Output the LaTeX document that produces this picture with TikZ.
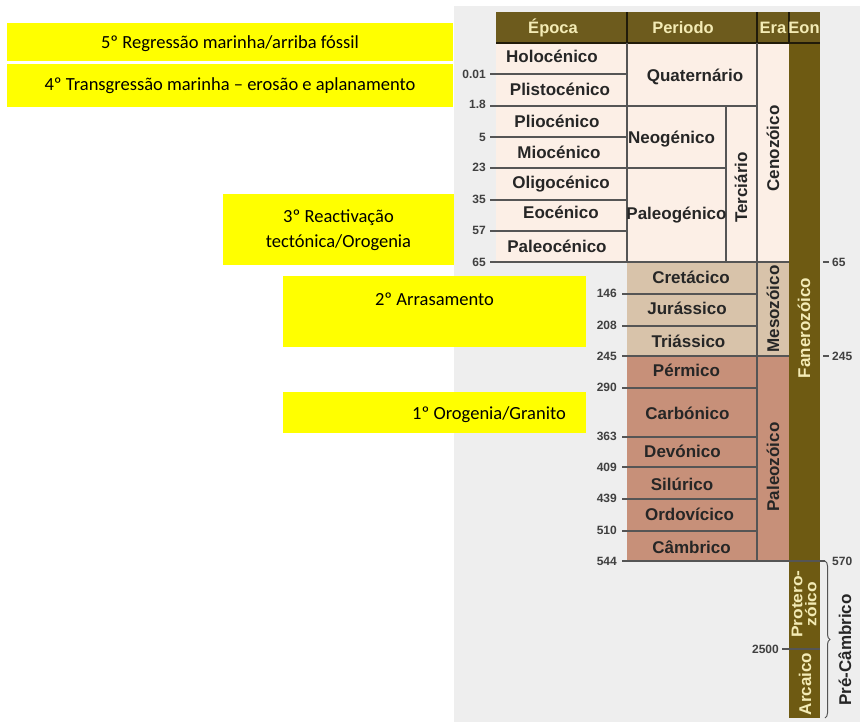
\documentclass[tikz,border=0pt]{standalone}
\usepackage{fontspec}
\setmainfont{Carlito}
\newfontfamily\chartfont{Liberation Sans}
\usetikzlibrary{decorations.pathreplacing}
\definecolor{cenoz}{HTML}{FCEFE6}
\definecolor{mesoz}{HTML}{D8C3AA}
\definecolor{paleoz}{HTML}{C79079}
\definecolor{olivec}{HTML}{6E5A12}
\definecolor{headbg}{HTML}{6D5B1D}
\definecolor{headtx}{HTML}{F3EBB5}
\definecolor{bggray}{HTML}{EEEEEE}
\definecolor{linegray}{HTML}{555555}
\definecolor{hl}{HTML}{FFFF00}
\begin{document}
\begin{tikzpicture}[x=1pt,y=-1pt,
  note/.style={font=\fontsize{18.5}{25}\selectfont, text=black, align=center, inner sep=0pt},
  cell/.style={font=\chartfont\bfseries\fontsize{17}{18}\selectfont, text=black!85, inner sep=0pt, text height=12.2pt, text depth=0pt},
  head/.style={cell, font=\chartfont\bfseries\fontsize{16.5}{18}\selectfont, text=headtx},
  light/.style={cell, text=headtx},
  tick/.style={font=\chartfont\bfseries\fontsize{12}{14}\selectfont, text=black!75, inner sep=0pt, text height=8.6pt, text depth=0pt},
  sep/.style={draw=linegray, line width=1.3pt},
  hsep/.style={draw=black!70!headbg, line width=1.3pt}]
\useasboundingbox (0,0) rectangle (860,723);
% background
\fill[bggray] (454,6) rectangle (860,722);
% yellow boxes
\fill[hl] (7,23) rectangle (453,61);
\fill[hl] (7,64) rectangle (453,107);
\fill[hl] (223,194) rectangle (454,265);
\fill[hl] (283,276) rectangle (586,347);
\fill[hl] (283,392) rectangle (586,433);
\node[note] (n5) at (230,44) {5º Regressão marinha/arriba fóssil};
\node[note] (n4) at (230,86) {4º Transgressão marinha – erosão e aplanamento};
\node[note] (n3) at (338.5,230.5) {3º Reactivação\\tectónica/Orogenia};
\node[note] (n2) at (434.5,299) {2º Arrasamento};
\node[note, anchor=east] (n1) at (566,415) {1º Orogenia/Granito};
% colour blocks
\fill[cenoz] (496,43) rectangle (789,262);
\fill[mesoz] (627,262) rectangle (789,356);
\fill[paleoz] (627,356) rectangle (789,561);
\fill[olivec] (789,43) rectangle (820,718);
% header
\fill[headbg] (496,12) rectangle (820,43);
\draw[hsep] (627,12) -- (627,43) (757,12) -- (757,43) (789,12) -- (789,43);
\draw[hsep] (496,43) -- (820,43);
\node[head] (hep) at (553,27.5) {Época};
\node[head] (hpe) at (683,27.5) {Periodo};
\node[head] (her) at (773,27.5) {Era};
\node[head] (heo) at (804,27.5) {Eon};
% Cenozoic lines
\draw[sep] (627,43) -- (627,262);
\draw[sep] (726,106) -- (726,262);
\draw[sep] (757,43) -- (757,561);
\draw[sep] (490,74) -- (627,74);
\draw[sep] (490,106) -- (757,106);
\draw[sep] (490,137) -- (627,137);
\draw[sep] (490,168) -- (726,168);
\draw[sep] (490,200) -- (627,200);
\draw[sep] (490,231) -- (627,231);
\draw[sep] (490,262) -- (789,262);
% Mesozoic / Paleozoic lines
\draw[sep] (622,294) -- (757,294);
\draw[sep] (622,326) -- (757,326);
\draw[sep] (622,356) -- (789,356);
\draw[sep] (622,388) -- (757,388);
\draw[sep] (622,437) -- (757,437);
\draw[sep] (622,467) -- (757,467);
\draw[sep] (622,499) -- (757,499);
\draw[sep] (622,531) -- (757,531);
\draw[sep] (622,561) -- (825,561);
% Precambrian
\draw[sep] (782,649) -- (820,649);
\draw[sep] (823,262) -- (829,262);
\draw[sep] (823,356) -- (829,356);
\draw[draw=linegray, line width=1pt, decorate, decoration={brace, amplitude=5pt}] (825,561) -- (825,718);
% left tick labels
\node[tick, anchor=east] (t1) at (486,74) {0.01};
\node[tick, anchor=east] (t2) at (486,104) {1.8};
\node[tick, anchor=east] (t3) at (486,137) {5};
\node[tick, anchor=east] (t4) at (486,167) {23};
\node[tick, anchor=east] (t5) at (486,199) {35};
\node[tick, anchor=east] (t6) at (486,230) {57};
\node[tick, anchor=east] (t7) at (486,262) {65};
\node[tick, anchor=east] (t8) at (617,293) {146};
\node[tick, anchor=east] (t9) at (617,325) {208};
\node[tick, anchor=east] (t10) at (617,356) {245};
\node[tick, anchor=east] (t11) at (617,387) {290};
\node[tick, anchor=east] (t12) at (617,436) {363};
\node[tick, anchor=east] (t13) at (617,467) {409};
\node[tick, anchor=east] (t14) at (617,498) {439};
\node[tick, anchor=east] (t15) at (617,530) {510};
\node[tick, anchor=east] (t16) at (617,561) {544};
\node[tick, anchor=east] (t17) at (779,649) {2500};
% right tick labels
\node[tick, anchor=west] (r1) at (832,262) {65};
\node[tick, anchor=west] (r2) at (832,356) {245};
\node[tick, anchor=west] (r3) at (832,561) {570};
% epochs
\node[cell] (e1) at (552,56) {Holocénico};
\node[cell] (e2) at (560,89) {Plistocénico};
\node[cell] (e3) at (557,121) {Pliocénico};
\node[cell] (e4) at (559,152) {Miocénico};
\node[cell] (e5) at (561,182) {Oligocénico};
\node[cell] (e6) at (561,212) {Eocénico};
\node[cell] (e7) at (557,246) {Paleocénico};
% periods
\node[cell] (p1) at (695,75) {Quaternário};
\node[cell] (p2) at (671.5,137) {Neogénico};
\node[cell] (p3) at (676.5,213) {Paleogénico};
\node[cell] (p4) at (691,277) {Cretácico};
\node[cell] (p5) at (687,308) {Jurássico};
\node[cell] (p6) at (688.5,341) {Triássico};
\node[cell] (p7) at (686.5,370) {Pérmico};
\node[cell] (p8) at (687.5,413) {Carbónico};
\node[cell] (p9) at (682.5,451) {Devónico};
\node[cell] (p10) at (682,484) {Silúrico};
\node[cell] (p11) at (689.5,514) {Ordovícico};
\node[cell] (p12) at (691.5,547) {Câmbrico};
% rotated
\node[cell, rotate=90] (terc) at (741,187.5) {Terciário};
\node[cell, rotate=90] (ceno) at (773,148.5) {Cenozóico};
\node[cell, rotate=90] (meso) at (773,309) {Mesozóico};
\node[cell, rotate=90] (pale) at (773,467) {Paleozóico};
\node[light, rotate=90] (fane) at (804,328) {Fanerozóico};
\node[light, rotate=90, text height=, text depth=, align=center, font=\chartfont\bfseries\fontsize{15.5}{14}\selectfont] (prot) at (804,604) {\scalebox{1.12}[1]{Protero-}\\\scalebox{1.12}[1]{zóico}};
\node[light, rotate=90] (arca) at (805,684) {Arcaico};
\node[cell, rotate=90, font=\chartfont\bfseries\fontsize{17}{18}\selectfont] (prec) at (845,650) {Pré-Câmbrico};
\end{tikzpicture}
\end{document}
